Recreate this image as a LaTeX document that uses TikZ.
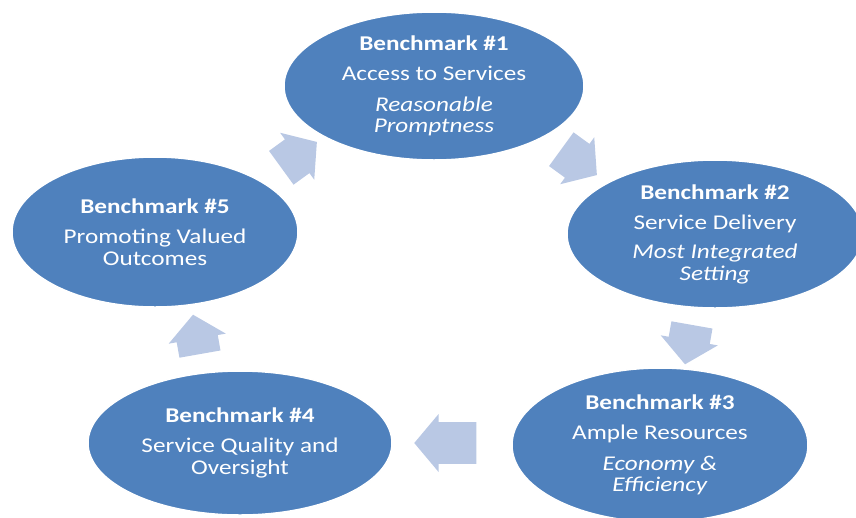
\documentclass[tikz,border=0pt]{standalone}
\usepackage{fontspec}
\setmainfont{Carlito}[FakeStretch=1.2]
\usepackage{tikz}
\usetikzlibrary{shapes}
\usetikzlibrary{positioning}
\definecolor{bmblue}{HTML}{4F81BD}
\definecolor{arblue}{HTML}{B9C8E4}
\tikzset{
    bmnode/.style = {ellipse, draw=white, line width=1.5pt, fill=bmblue, inner sep=0pt, align=center, text=white, font=\fontsize{21}{21.5}\selectfont},
    cyclearrow/.style = {single arrow, draw=none, fill=arblue, inner sep=0pt, inner ysep=18pt, minimum width=58pt, single arrow tip angle=100},
}
\begin{document}
\begin{tikzpicture}[x=1pt,y=-1pt]
\path[use as bounding box] (0,0) rectangle (856,517);
% cycle arrows
\node[cyclearrow, minimum height=44pt, rotate=36] at (292,160) (a51) {};
\node[cyclearrow, minimum height=44pt, rotate=-36] at (572,157) (a12) {};
\node[cyclearrow, minimum height=40pt, rotate=-100] at (690,336) (a23) {};
\node[cyclearrow, minimum height=62pt, rotate=180] at (454,443) (a34) {};
\node[cyclearrow, minimum height=40pt, rotate=100] at (198,343) (a45) {};
% benchmarks
\node[bmnode, minimum width=300pt, minimum height=148pt] at (434,86) (b1) {\textbf{Benchmark \#1}\\[8.5pt] Access to Services\\[9pt] \textit{Reasonable}\\ \textit{Promptness}};
\node[bmnode, minimum width=296pt, minimum height=148pt] at (715,234) (b2) {\textbf{Benchmark \#2}\\[8.5pt] Service Delivery\\[8pt] \textit{Most Integrated}\\ \textit{Setting}};
\node[bmnode, minimum width=296pt, minimum height=154pt] at (660,445) (b3) {\textbf{Benchmark \#3}\\[8.5pt] Ample Resources\\[9pt] \textit{Economy \&}\\ \textit{Efficiency}};
\node[bmnode, minimum width=304pt, minimum height=144pt] at (240,443) (b4) {\textbf{Benchmark \#4}\\[8.5pt] Service Quality and\\ Oversight};
\node[bmnode, minimum width=286pt, minimum height=150pt] at (155,232) (b5) {\textbf{Benchmark \#5}\\[8.5pt] Promoting Valued\\ Outcomes};
\end{tikzpicture}
\end{document}
